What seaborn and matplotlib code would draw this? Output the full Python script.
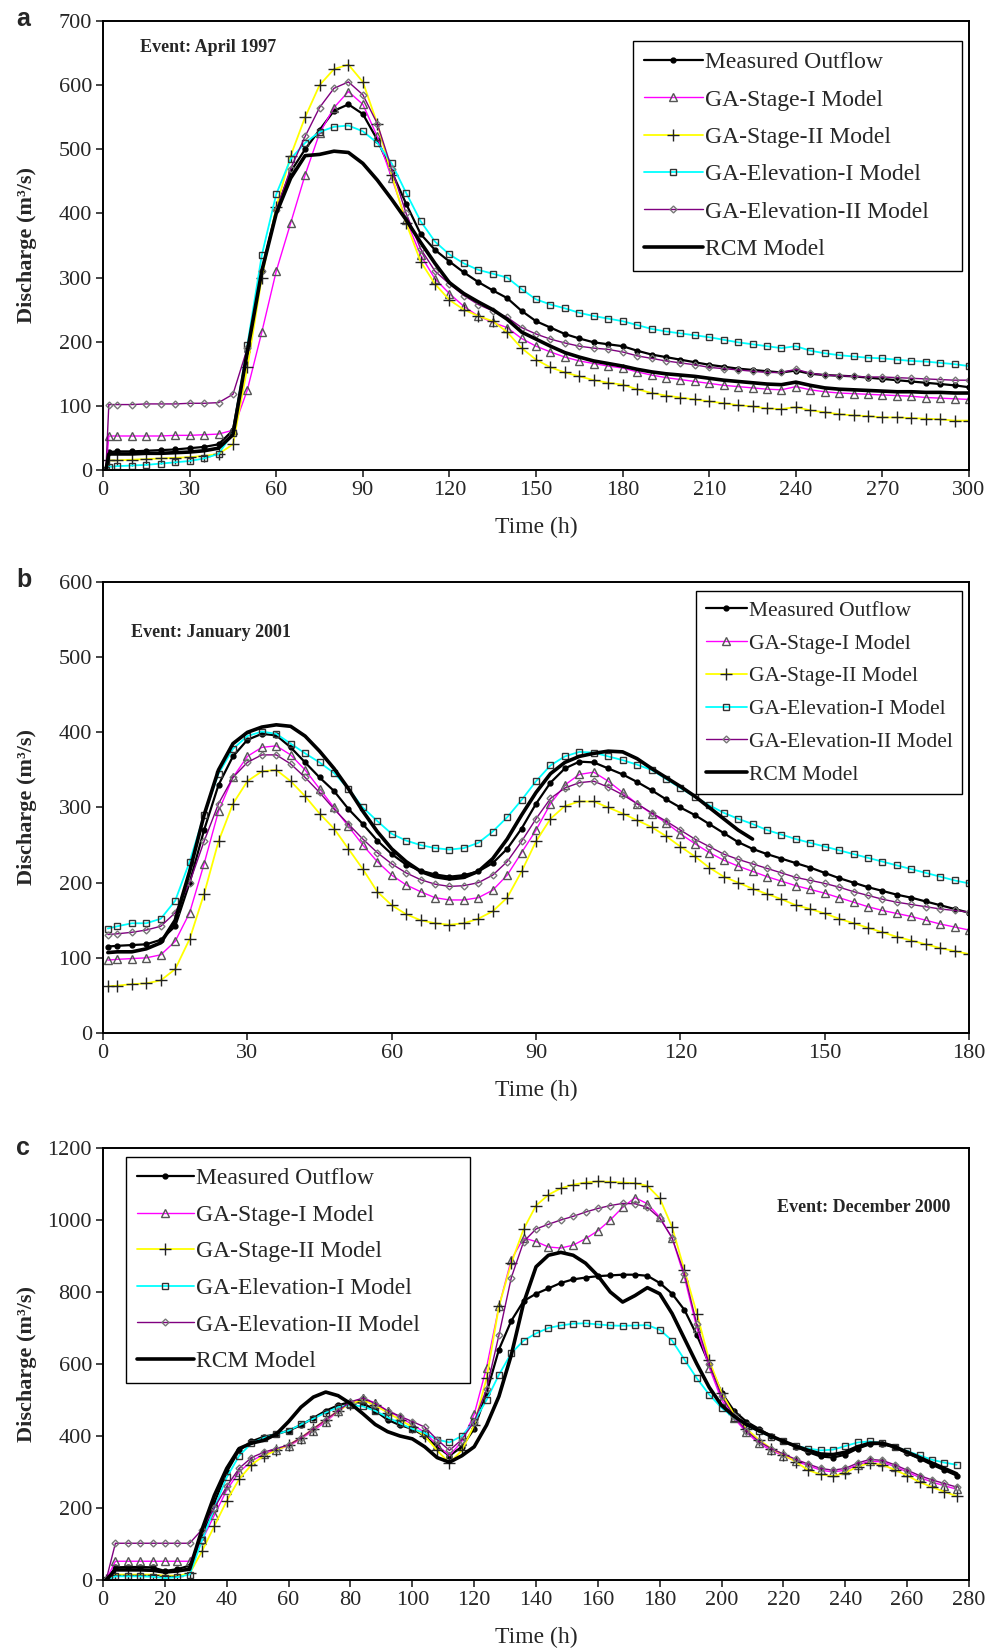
import numpy as np
import pandas as pd
import matplotlib
matplotlib.use('Agg')
import matplotlib.pyplot as plt
import seaborn as sns

sns.set_style('ticks')
plt.rcParams['font.family'] = ['Liberation Serif', 'DejaVu Serif']

# ---- panel a: April 1997 ----
time_a = [1, 2] + list(range(5, 305, 5))
measured_a = [0, 28, 29, 29, 30, 31, 32, 34, 36, 40,
              62, 185, 310, 405, 465, 500, 530, 560, 570, 555, 515, 465,
              415, 368, 343, 325, 308, 293, 280, 268, 248, 232, 222, 212,
              205, 199, 196, 193, 186, 180, 176, 172, 168, 164, 161, 158,
              156, 154, 152, 155, 150, 148, 147, 146, 144, 142, 140, 138,
              136, 134, 132, 129]
stage1_a = [0, 53, 53, 53, 53, 53, 54, 54, 55, 56,
            62, 125, 215, 310, 385, 460, 525, 565, 590, 570, 520, 455,
            390, 335, 298, 275, 255, 240, 230, 222, 205, 193, 184, 176,
            170, 166, 162, 159, 153, 148, 144, 141, 138, 135, 132, 130,
            128, 126, 125, 130, 125, 122, 120, 119, 118, 117, 116, 115,
            113, 112, 111, 110]
stage2_a = [0, 15, 15, 16, 17, 18, 19, 20, 22, 25,
            40, 160, 300, 410, 490, 550, 600, 625, 632, 605, 540, 460,
            385, 325, 290, 265, 250, 240, 232, 215, 190, 172, 160, 152,
            146, 140, 136, 133, 126, 120, 116, 113, 110, 107, 104, 101,
            99, 96, 95, 98, 93, 90, 87, 85, 84, 82, 82, 81,
            80, 79, 77, 77]
elev1_a = [0, 5, 6, 7, 8, 10, 12, 14, 18, 25,
           58, 195, 335, 430, 485, 510, 527, 535, 537, 528, 510, 478,
           432, 388, 356, 336, 322, 312, 306, 300, 282, 266, 258, 252,
           245, 240, 236, 232, 226, 220, 216, 213, 210, 207, 203, 199,
           196, 193, 190, 193, 186, 182, 179, 177, 175, 174, 172, 170,
           169, 167, 165, 162]
elev2_a = [0, 102, 102, 102, 103, 103, 103, 104, 104, 105,
           118, 190, 310, 405, 470, 520, 565, 595, 605, 585, 540, 470,
           400, 345, 310, 290, 272, 258, 248, 238, 222, 212, 204, 198,
           193, 190, 188, 184, 178, 174, 170, 167, 164, 160, 158, 156,
           154, 152, 152, 157, 151, 148, 147, 146, 145, 145, 144, 143,
           142, 141, 140, 140]
rcm_a = [0, 25, 25, 25, 26, 26, 27, 28, 30, 34,
         55, 185, 310, 400, 455, 490, 492, 497, 495, 478, 452, 422,
         390, 355, 322, 292, 275, 262, 250, 235, 215, 204, 193, 183,
         176, 170, 166, 162, 157, 153, 150, 148, 146, 143, 140, 138,
         136, 134, 133, 137, 132, 128, 126, 125, 124, 123, 122, 122,
         121, 121, 120, 120]

# ---- panel b: January 2001 ----
time_b = [1] + list(range(3, 183, 3))
measured_b = [115, 116, 117, 118, 124, 142, 200, 270, 330, 368,
              390, 398, 396, 380, 360, 340, 322, 298, 278, 256, 238, 224,
              216, 211, 208, 210, 215, 226, 245, 272, 305, 333, 352, 361,
              360, 352, 344, 334, 323, 311, 300, 290, 278, 266, 254, 245,
              238, 232, 226, 220, 213, 206, 200, 194, 189, 184, 180, 175,
              170, 165, 160]
stage1_b = [97, 98, 99, 100, 104, 122, 160, 225, 295, 340,
            368, 380, 382, 370, 350, 325, 300, 275, 250, 228, 210, 197,
            188, 180, 177, 177, 180, 190, 210, 240, 270, 305, 330, 344,
            347, 335, 320, 305, 292, 280, 265, 252, 240, 230, 222, 215,
            208, 202, 196, 191, 186, 180, 174, 168, 163, 159, 155, 150,
            145, 141, 137]
stage2_b = [62, 63, 65, 66, 70, 85, 125, 185, 255, 305,
            335, 348, 350, 335, 315, 292, 272, 245, 218, 188, 170, 158,
            150, 146, 144, 146, 152, 162, 180, 215, 255, 285, 302, 308,
            308, 300, 292, 283, 274, 262, 248, 235, 220, 208, 200, 192,
            185, 178, 170, 165, 159, 152, 146, 140, 134, 128, 123, 118,
            113, 109, 105]
elev1_b = [139, 142, 146, 146, 152, 176, 228, 290, 345, 378,
           395, 401, 398, 385, 372, 360, 346, 325, 300, 282, 265, 256,
           250, 246, 244, 246, 253, 268, 287, 310, 335, 356, 368, 374,
           373, 368, 363, 357, 350, 338, 326, 314, 303, 293, 285, 278,
           270, 264, 258, 253, 248, 243, 238, 233, 228, 223, 218, 213,
           208, 203, 199]
elev2_b = [131, 132, 134, 137, 142, 160, 200, 255, 305, 340,
           360, 370, 370, 358, 340, 320, 298, 278, 258, 240, 225, 213,
           204, 198, 195, 196, 200, 210, 228, 255, 285, 312, 326, 333,
           335, 327, 317, 305, 293, 282, 270, 258, 248, 238, 231, 225,
           219, 213, 207, 203, 199, 194, 188, 183, 178, 174, 171, 168,
           165, 163, 161]
rcm_b = [107, 108, 108, 112, 120, 150, 215, 290, 350, 385,
         400, 407, 410, 408, 395, 375, 352, 325, 295, 268, 245, 228,
         215, 208, 205, 207, 215, 232, 258, 290, 320, 345, 360, 368,
         372, 375, 374, 365, 352, 340, 328, 315, 300, 285, 270, 258]

# ---- panel c: December 2000 ----
time_c = [1] + list(range(4, 280, 4))
measured_c = [0, 35, 36, 36, 35, 25, 30, 40, 120, 215,
              300, 360, 385, 398, 405, 415, 430, 450, 470, 485, 495, 492,
              470, 445, 430, 420, 400, 370, 345, 370, 420, 520, 640, 720,
              775, 795, 810, 825, 835, 840, 844, 846, 848, 848, 845, 825,
              795, 750, 680, 600, 520, 470, 440, 420, 400, 385, 370, 355,
              343, 340, 348, 365, 377, 378, 368, 352, 337, 320, 305, 290]
stage1_c = [0, 52, 52, 52, 52, 52, 52, 52, 110, 180,
            250, 300, 330, 350, 362, 372, 392, 415, 440, 468, 492, 505,
            492, 470, 452, 432, 410, 375, 345, 385, 460, 590, 760, 890,
            950, 940, 925, 922, 930, 948, 970, 1000, 1035, 1062, 1045, 1008,
            950, 840, 700, 590, 500, 450, 410, 380, 360, 345, 330, 318,
            305, 300, 305, 320, 330, 328, 315, 300, 285, 272, 262, 252]
stage2_c = [0, 15, 15, 15, 15, 12, 12, 18, 80, 150,
            220, 280, 320, 345, 360, 375, 395, 420, 445, 470, 490, 500,
            485, 465, 445, 425, 400, 360, 325, 360, 430, 560, 760, 880,
            975, 1040, 1070, 1088, 1098, 1104, 1107, 1106, 1104, 1102, 1095, 1060,
            980, 860, 740, 610, 520, 460, 420, 390, 365, 348, 328, 305,
            293, 288, 298, 315, 325, 320, 306, 290, 272, 258, 245, 233]
elev1_c = [0, 10, 10, 10, 9, 5, 8, 15, 110, 200,
           285, 345, 380, 395, 405, 415, 432, 448, 465, 480, 486, 482,
           470, 452, 435, 420, 408, 390, 382, 400, 440, 500, 570, 630,
           665, 685, 700, 707, 712, 713, 710, 707, 706, 707, 708, 695,
           665, 612, 560, 515, 478, 450, 430, 413, 398, 385, 373, 365,
           360, 362, 372, 382, 385, 380, 370, 358, 346, 334, 326, 320]
elev2_c = [0, 102, 102, 102, 102, 102, 102, 102, 140, 200,
           260, 310, 340, 355, 365, 375, 395, 420, 445, 470, 495, 505,
           490, 470, 455, 440, 425, 390, 360, 390, 440, 530, 680, 840,
           940, 975, 988, 1000, 1010, 1022, 1032, 1040, 1046, 1045, 1035, 1005,
           950, 850, 710, 600, 510, 455, 415, 385, 365, 350, 335, 322,
           310, 305, 310, 325, 335, 332, 320, 305, 290, 278, 268, 258]
rcm_c = [0, 28, 28, 28, 27, 22, 25, 30, 140, 235,
         310, 365, 380, 388, 405, 440, 480, 508, 522, 512, 490, 462,
         432, 412, 400, 392, 370, 340, 327, 345, 370, 430, 510, 625,
         770, 870, 902, 910, 902, 880, 845, 800, 772, 790, 812, 795,
         740, 670, 600, 535, 485, 455, 432, 415, 400, 385, 372, 360,
         350, 348, 355, 370, 380, 380, 370, 355, 340, 325, 310, 295]

labels = ['Measured Outflow', 'GA-Stage-I Model', 'GA-Stage-II Model',
          'GA-Elevation-I Model', 'GA-Elevation-II Model', 'RCM Model']

styles = {
    'Measured Outflow': dict(color='black', linewidth=1.6, marker='o', markersize=3.5,
                             markerfacecolor='black', markeredgecolor='black'),
    'GA-Stage-I Model': dict(color='#FF00FF', linewidth=1.0, marker='^', markersize=5.5,
                             markerfacecolor='none', markeredgecolor='#555555'),
    'GA-Stage-II Model': dict(color='#FFFF00', linewidth=1.3, marker='+', markersize=8,
                              markeredgecolor='#222222'),
    'GA-Elevation-I Model': dict(color='#00FFFF', linewidth=1.3, marker='s', markersize=5,
                                 markerfacecolor='none', markeredgecolor='#333333'),
    'GA-Elevation-II Model': dict(color='#800080', linewidth=1.0, marker='D', markersize=3.5,
                                  markerfacecolor='none', markeredgecolor='#777777'),
    'RCM Model': dict(color='black', linewidth=2.6),
}


def draw_panel(ax, time, series, xmax, xstep, ymax, ystep, event, event_xy, event_ha,
               leg_anchor, leg_font, leg_spacing, leg_handle):
    for lab, vals in zip(labels, series):
        t = time[:len(vals)]
        df = pd.DataFrame({'t': t, 'q': vals})
        sns.lineplot(data=df, x='t', y='q', ax=ax, label=lab, sort=False,
                     markeredgewidth=1.0, **styles[lab])
    ax.set_xlim(0, xmax)
    ax.set_ylim(0, ymax)
    ax.set_xticks(np.arange(0, xmax + 1, xstep))
    ax.set_yticks(np.arange(0, ymax + 1, ystep))
    for s in ax.spines.values():
        s.set_visible(True)
        s.set_linewidth(1.4)
        s.set_color('black')
    ax.tick_params(direction='out', length=5, width=1.2, labelsize=16, pad=3)
    ax.set_xlabel('Time (h)', fontsize=17, labelpad=12)
    ax.set_ylabel('')
    ax.text(-0.088, 0.5, 'Discharge (m³/s)', transform=ax.transAxes, rotation=90,
            ha='center', va='center', fontsize=16, fontweight='bold')
    ax.text(event_xy[0], event_xy[1], event, transform=ax.transAxes, ha=event_ha,
            va='center', fontsize=13, fontweight='bold')
    handles, labs = ax.get_legend_handles_labels()
    leg = ax.legend(handles, labs, loc='upper left', bbox_to_anchor=leg_anchor,
                    mode='expand', frameon=True, fancybox=False, edgecolor='black',
                    framealpha=1, fontsize=leg_font, handlelength=leg_handle,
                    handletextpad=0.1, labelspacing=leg_spacing, borderpad=0.45,
                    borderaxespad=0, numpoints=1)
    leg.get_frame().set_linewidth(1.0)


fig = plt.figure(figsize=(9.87, 16.52), dpi=100)
ax_a = fig.add_axes([0.1044, 0.7155, 0.8774, 0.2718])
ax_b = fig.add_axes([0.1044, 0.3747, 0.8774, 0.2730])
ax_c = fig.add_axes([0.1044, 0.0436, 0.8774, 0.2615])

draw_panel(ax_a, time_a, [measured_a, stage1_a, stage2_a, elev1_a, elev2_a, rcm_a],
           300, 30, 700, 100, 'Event: April 1997', (0.043, 0.942), 'left',
           (0.612, 0.955, 0.3795, 0.0), 17, 0.67, 2.5)
draw_panel(ax_b, time_b, [measured_b, stage1_b, stage2_b, elev1_b, elev2_b, rcm_b],
           180, 30, 600, 100, 'Event: January 2001', (0.032, 0.887), 'left',
           (0.685, 0.98, 0.307, 0.0), 15.5, 0.59, 1.9)
draw_panel(ax_c, time_c, [measured_c, stage1_c, stage2_c, elev1_c, elev2_c, rcm_c],
           280, 20, 1200, 200, 'Event: December 2000', (0.978, 0.863), 'right',
           (0.027, 0.979, 0.3966, 0.0), 17, 0.64, 2.4)

for letter, y in zip(['a', 'b', 'c'], [1 - 19 / 1652, 1 - 580 / 1652, 1 - 1148 / 1652]):
    fig.text(16 / 987, y, letter, fontsize=18, fontweight='bold',
             family=['Liberation Sans', 'DejaVu Sans'], ha='left', va='center')

fig.savefig('out.png', dpi=100)
